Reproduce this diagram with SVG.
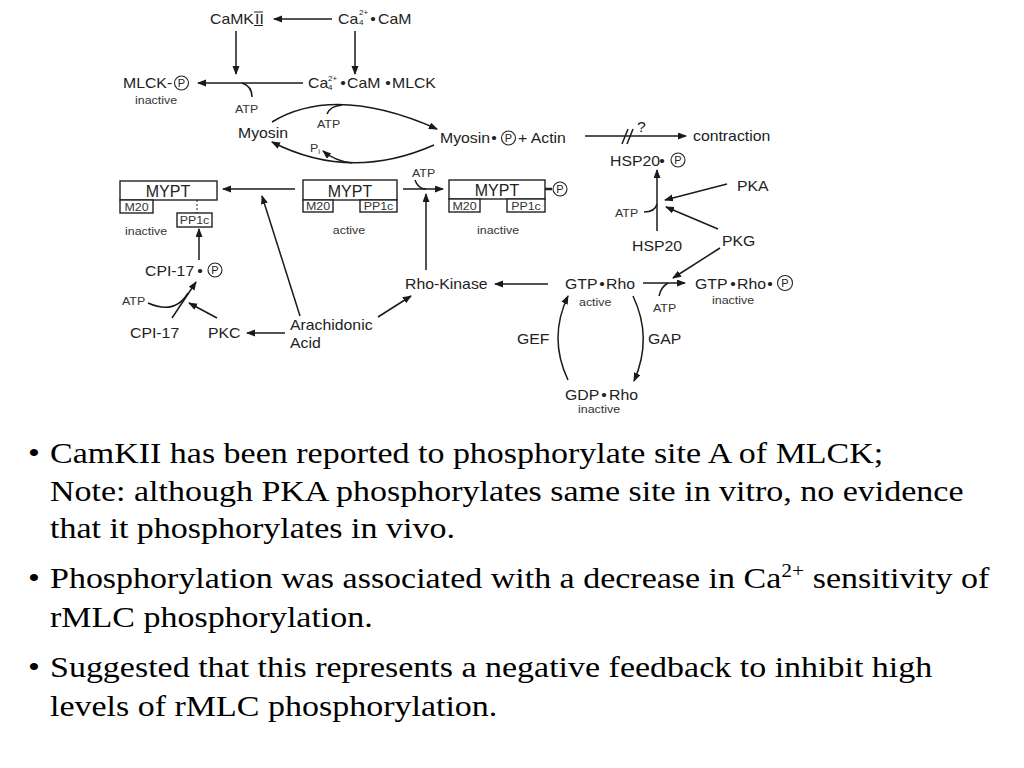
<svg xmlns="http://www.w3.org/2000/svg" width="1024" height="768" viewBox="0 0 1024 768">
<defs>
<marker id="ah" markerUnits="userSpaceOnUse" markerWidth="10" markerHeight="8" refX="8" refY="3.5" orient="auto">
<path d="M0,0 L9,3.5 L0,7 z" fill="#1a1a1a"/>
</marker>
<style>
.t{font-family:"Liberation Sans",Arial,sans-serif;font-size:14px;fill:#222;transform-box:fill-box;transform-origin:left center;transform:scaleX(1.13);}
.s{font-size:11px;fill:#333;}
.m{text-anchor:middle;transform-origin:center;}
.sup{font-family:"Liberation Sans",Arial,sans-serif;font-size:8px;fill:#222;}
.pt{font-family:"Liberation Sans",Arial,sans-serif;font-size:11px;fill:#222;text-anchor:middle;}
.my{font-family:"Liberation Sans",Arial,sans-serif;font-size:16px;fill:#222;text-anchor:middle;}
.pc{fill:none;stroke:#222;stroke-width:1.1;}
.bx{fill:#fff;stroke:#222;stroke-width:1.4;}
.c{fill:none;stroke:#1a1a1a;stroke-width:1.5;}
.a{marker-end:url(#ah);}
.b{font-family:"Liberation Serif","Times New Roman",serif;font-size:30px;fill:#000;transform-box:fill-box;transform-origin:left center;transform:scaleX(1.133);}
</style>
</defs>
<rect width="1024" height="768" fill="#fff"/>

<g id="connectors">
<path class="c a" d="M332,19 L274,19"/>
<path class="c a" d="M236,31 L236,74"/>
<path class="c a" d="M355,31 L355,74"/>
<path class="c a" d="M303,83 L198,83"/>
<path class="c" d="M242,83 Q252,86 252,97"/>
<path class="c a" d="M272,122 Q335,84 437,129"/>
<path class="c" d="M327,114 Q330,106 342,105"/>
<path class="c a" d="M434,145 Q350,182 272,142"/>
<path class="c a" d="M352,163 Q335,161 323,151"/>
<path class="c a" d="M585,136 L686,136"/>
<path class="c" d="M622,144 L628,129 M627,144 L633,129"/>
<path class="c a" d="M657,231 L657,170"/>
<path class="c" d="M644,212 Q655,212 657,204"/>
<path class="c a" d="M727,184 L665,200"/>
<path class="c a" d="M718,229 L666,207"/>
<path class="c a" d="M720,248 L673,278"/>
<path class="c a" d="M295,189 L223,189"/>
<path class="c a" d="M403,189 L443,189"/>
<path class="c" d="M415,180 Q418,189 426,189"/>
<path class="c a" d="M426,270 L426,194"/>
<path class="c a" d="M199,260 L199,229"/>
<path class="c a" d="M172,318 L196,282"/>
<path class="c" d="M148,303 Q175,315 188,293"/>
<path class="c a" d="M217,318 L189,303"/>
<path class="c a" d="M285,333 L247,333"/>
<path class="c a" d="M300,316 L262,196"/>
<path class="c a" d="M378,317 L411,296"/>
<path class="c a" d="M548,284 L495,284"/>
<path class="c a" d="M643,283 L685,283"/>
<path class="c" d="M659,296 Q661,287 668,283"/>
<path class="c a" d="M568,380 Q548,338 568,296"/>
<path class="c a" d="M633,296 Q653,338 634,381"/>
</g>

<g id="camkii">
<text class="t" x="210" y="24">CaMK</text>
<text class="t" x="255" y="24">II</text>
<path d="M254,12 H263 M254,25.5 H263" stroke="#222" stroke-width="1.1"/>
</g>

<g id="ca-cam">
<text class="t" x="338" y="24">Ca</text>
<text class="sup" x="359" y="15">2+</text>
<text class="sup" x="359" y="25">4</text>
<text class="t m" x="373" y="24">•</text>
<text class="t" x="378" y="24">CaM</text>
</g>

<g id="mlck-p">
<text class="t" x="123" y="88">MLCK-</text>
<circle class="pc" cx="181.5" cy="83" r="7"/>
<text class="pt" x="181.5" y="87">P</text>
<text class="t s" x="135" y="104">inactive</text>
</g>

<g id="ca-cam-mlck">
<text class="t" x="308" y="88">Ca</text>
<text class="sup" x="328" y="81">2+</text>
<text class="sup" x="328" y="90">4</text>
<text class="t m" x="343" y="88">•</text>
<text class="t" x="347" y="88">CaM</text>
<text class="t m" x="388" y="88">•</text>
<text class="t" x="392" y="88">MLCK</text>
<text class="t s" x="235" y="113">ATP</text>
</g>

<g id="myosin">
<text class="t" x="238" y="138">Myosin</text>
<text class="t s" x="317" y="128">ATP</text>
<text class="t s" x="310" y="152">P<tspan font-size="7" dy="2">i</tspan></text>
</g>

<g id="myosin-p-actin">
<text class="t" x="440" y="143">Myosin</text>
<text class="t m" x="494" y="143">•</text>
<circle class="pc" cx="508.5" cy="138" r="7"/>
<text class="pt" x="508.5" y="142">P</text>
<text class="t" x="518" y="143">+ Actin</text>
</g>

<g id="contraction">
<text class="t" x="637" y="132">?</text>
<text class="t" x="693" y="141">contraction</text>
</g>

<g id="hsp20-p">
<text class="t" x="610" y="166">HSP20</text>
<text class="t m" x="662" y="166">•</text>
<circle class="pc" cx="678" cy="160" r="7"/>
<text class="pt" x="678" y="164">P</text>
</g>

<g id="hsp20">
<text class="t" x="632" y="251">HSP20</text>
<text class="t s" x="615" y="217">ATP</text>
</g>
<g id="pka"><text class="t" x="737" y="191">PKA</text></g>
<g id="pkg"><text class="t" x="722" y="246">PKG</text></g>

<g id="mypt-inactive-1">
<rect class="bx" x="120" y="181" width="97" height="19"/>
<text class="my" x="168" y="197">MYPT</text>
<rect class="bx" x="120" y="200" width="33" height="13"/>
<text class="t s m" x="136.5" y="211">M20</text>
<path d="M197,200 V213" stroke="#222" stroke-width="1" stroke-dasharray="2,2"/>
<rect class="bx" x="177" y="213" width="35" height="14"/>
<text class="t s m" x="194.5" y="224">PP1c</text>
<text class="t s" x="125" y="235">inactive</text>
</g>

<g id="mypt-active">
<rect class="bx" x="303" y="180" width="94" height="20"/>
<text class="my" x="350" y="197">MYPT</text>
<rect class="bx" x="303" y="200" width="30" height="12"/>
<text class="t s m" x="318" y="210.5">M20</text>
<rect class="bx" x="360" y="200" width="37" height="12"/>
<text class="t s m" x="378.5" y="210.5">PP1c</text>
<text class="t s m" x="349" y="234">active</text>
<text class="t s" x="412" y="177">ATP</text>
</g>

<g id="mypt-inactive-2">
<rect class="bx" x="449" y="180" width="96" height="19"/>
<text class="my" x="497" y="196">MYPT</text>
<rect class="bx" x="449" y="199" width="31" height="13"/>
<text class="t s m" x="464.5" y="210.5">M20</text>
<rect class="bx" x="507" y="199" width="38" height="13"/>
<text class="t s m" x="526" y="210.5">PP1c</text>
<path d="M545,189 H552" stroke="#222" stroke-width="2.5"/>
<circle class="pc" cx="560" cy="189" r="7"/>
<text class="pt" x="560" y="193">P</text>
<text class="t s" x="477" y="234">inactive</text>
</g>

<g id="cpi17-p">
<text class="t" x="145" y="276">CPI-17</text>
<text class="t m" x="200" y="276">•</text>
<circle class="pc" cx="215" cy="270" r="7"/>
<text class="pt" x="215" y="274">P</text>
<text class="t s" x="122" y="305">ATP</text>
</g>
<g id="cpi17"><text class="t" x="130" y="338">CPI-17</text></g>
<g id="pkc"><text class="t" x="208" y="338">PKC</text></g>
<g id="arachidonic">
<text class="t" x="290" y="330">Arachidonic</text>
<text class="t" x="290" y="348">Acid</text>
</g>
<g id="rho-kinase"><text class="t" x="405" y="289">Rho-Kinase</text></g>

<g id="gtp-rho">
<text class="t" x="565" y="289">GTP</text>
<text class="t m" x="602" y="289">•</text>
<text class="t" x="606" y="289">Rho</text>
<text class="t s" x="579" y="306">active</text>
<text class="t s" x="653" y="312">ATP</text>
</g>

<g id="gtp-rho-p">
<text class="t" x="695" y="289">GTP</text>
<text class="t m" x="733" y="289">•</text>
<text class="t" x="737" y="289">Rho</text>
<text class="t m" x="770" y="289">•</text>
<circle class="pc" cx="785" cy="283" r="7.5"/>
<text class="pt" x="785" y="287">P</text>
<text class="t s" x="712" y="304">inactive</text>
</g>

<g id="gef"><text class="t" x="517" y="344">GEF</text></g>
<g id="gap"><text class="t" x="648" y="344">GAP</text></g>

<g id="gdp-rho">
<text class="t" x="565" y="400">GDP</text>
<text class="t m" x="604" y="400">•</text>
<text class="t" x="609" y="400">Rho</text>
<text class="t s" x="578" y="413">inactive</text>
</g>

<g id="bullets">
<text class="b" x="28" y="463">•</text>
<text class="b" x="50" y="463">CamKII has been reported to phosphorylate site A of MLCK;</text>
<text class="b" x="50" y="501">Note: although PKA phosphorylates same site in vitro, no evidence</text>
<text class="b" x="50" y="538">that it phosphorylates in vivo.</text>
<text class="b" x="28" y="588">•</text>
<text class="b" x="50" y="588">Phosphorylation was associated with a decrease in Ca<tspan font-size="19" dy="-11">2+</tspan><tspan dy="11"> sensitivity of</tspan></text>
<text class="b" x="50" y="627">rMLC phosphorylation.</text>
<text class="b" x="28" y="677">•</text>
<text class="b" x="50" y="677">Suggested that this represents a negative feedback to inhibit high</text>
<text class="b" x="50" y="716">levels of rMLC phosphorylation.</text>
</g>
</svg>
